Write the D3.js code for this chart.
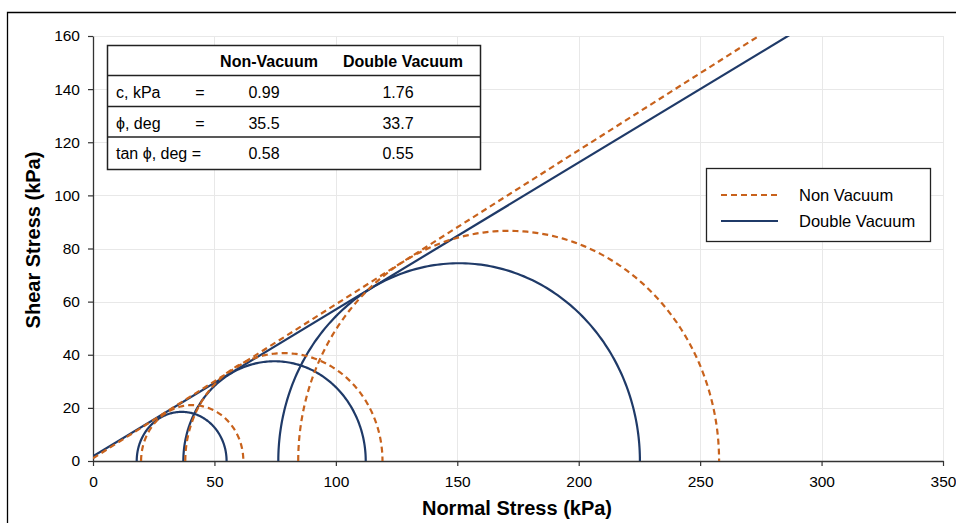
<!DOCTYPE html>
<html>
<head>
<meta charset="utf-8">
<script src="https://cdn.jsdelivr.net/npm/d3@7"></script>
<style>
  body { margin: 0; background: #fff; }
  text { font-family: "Liberation Sans", Arial, sans-serif; fill: #000; }
</style>
</head>
<body>
<script>
// Mohr circles: [sigma3, sigma1] in kPa
var nonVacCircles = [[19.8, 61.9], [38.0, 119.2], [84.5, 257.8]]
var dblVacCircles = [[18.0, 55.0], [37.2, 112.3], [76.3, 225.2]]
// failure envelopes (c, slope)
var nonVacEnv = [0.99, 0.58]
var dblVacEnv = [1.76, 0.553]

var xTicks = [0, 50, 100, 150, 200, 250, 300, 350]
var yTicks = [0, 20, 40, 60, 80, 100, 120, 140, 160]

var tableHeader = ["", "", "Non-Vacuum", "Double Vacuum"]
var tableRows = [
    ["c, kPa", "=", "0.99", "1.76"],
    ["\u03d5, deg", "=", "35.5", "33.7"],
    ["tan \u03d5, deg =", "", "0.58", "0.55"]
]
var seriesNames = ["Non Vacuum", "Double Vacuum"]

var width = 956, height = 523
var margin = {top: 36, left: 93, right: 13, bottom: 62}
var orange = "#c8621c", navy = "#1f3a68"

var svg = d3.select("body").append("svg")
    .attr("width", width).attr("height", height)

// outer frame (cropped on right and bottom)
svg.append("path")
    .attr("d", "M7.5," + height + "V12.5H" + width)
    .attr("fill", "none").attr("stroke", "#000").attr("stroke-width", 1.3)

var x = d3.scaleLinear().domain([0, 350]).range([margin.left, width - margin.right])
var y = d3.scaleLinear().domain([0, 160]).range([height - margin.bottom, margin.top])

// grid
var grid = svg.append("g").attr("stroke", "#e8e8e8").attr("stroke-width", 1)
grid.selectAll(".vg").data(xTicks.slice(1)).enter().append("line")
    .attr("x1", function(d){ return Math.round(x(d)) + 0.5 })
    .attr("x2", function(d){ return Math.round(x(d)) + 0.5 })
    .attr("y1", y(0)).attr("y2", y(160))
grid.selectAll(".hg").data(yTicks.slice(1)).enter().append("line")
    .attr("y1", function(d){ return Math.round(y(d)) + 0.5 })
    .attr("y2", function(d){ return Math.round(y(d)) + 0.5 })
    .attr("x1", x(0)).attr("x2", x(350))

// axes
var xAxis = svg.append("g")
    .attr("transform", "translate(0," + y(0) + ")")
    .call(d3.axisBottom(x).tickValues(xTicks).tickSize(5).tickSizeOuter(0))
var yAxis = svg.append("g")
    .attr("transform", "translate(" + x(0) + ",0)")
    .call(d3.axisLeft(y).tickValues(yTicks).tickSize(5).tickSizeOuter(0))
;[xAxis, yAxis].forEach(function(a){
    a.select(".domain").attr("stroke", "#333").attr("stroke-width", 1.3)
    a.selectAll(".tick line").attr("stroke", "#333").attr("stroke-width", 1.2)
    a.selectAll(".tick text").attr("font-size", 15.5)
        .attr("font-family", "Liberation Sans, Arial, sans-serif").attr("fill", "#000")
})
xAxis.selectAll(".tick text").attr("y", 26).attr("dy", 0)
yAxis.selectAll(".tick text").attr("x", -13)

svg.append("text").attr("x", 517).attr("y", 515)
    .attr("text-anchor", "middle").attr("font-size", 20).attr("font-weight", "bold")
    .text("Normal Stress (kPa)")
svg.append("text").attr("transform", "translate(40,240) rotate(-90)")
    .attr("text-anchor", "middle").attr("font-size", 20).attr("font-weight", "bold")
    .text("Shear Stress (kPa)")

// plot clip
svg.append("clipPath").attr("id", "clip").append("rect")
    .attr("x", x(0)).attr("y", y(160)).attr("width", x(350) - x(0)).attr("height", y(0) - y(160))
var plot = svg.append("g").attr("clip-path", "url(#clip)")

var line = d3.line().x(function(d){ return x(d[0]) }).y(function(d){ return y(d[1]) })

function semicircle(c) {
    var ctr = (c[0] + c[1]) / 2, r = (c[1] - c[0]) / 2
    return d3.range(0, 181).map(function(a){
        var t = Math.PI * (180 - a) / 180
        return [ctr + r * Math.cos(t), r * Math.sin(t)]
    })
}

function drawSeries(circles, env, color, dash) {
    plot.selectAll(null).data(circles).enter().append("path")
        .attr("d", function(d){ return line(semicircle(d)) })
        .attr("fill", "none").attr("stroke", color).attr("stroke-width", 2.2)
        .attr("stroke-dasharray", dash)
    plot.append("path")
        .attr("d", line([[0, env[0]], [350, env[0] + env[1] * 350]]))
        .attr("fill", "none").attr("stroke", color).attr("stroke-width", 2.2)
        .attr("stroke-dasharray", dash)
}
drawSeries(dblVacCircles, dblVacEnv, navy, null)
drawSeries(nonVacCircles, nonVacEnv, orange, "6,4")

// parameter table
var tbl = svg.append("g")
tbl.append("rect").attr("x", 107.5).attr("y", 45.5).attr("width", 373).attr("height", 124)
    .attr("fill", "#fff").attr("stroke", "#222").attr("stroke-width", 1.5)
var rowLines = [75.5, 106.5, 137]
tbl.selectAll(".rl").data(rowLines).enter().append("line")
    .attr("x1", 107.5).attr("x2", 480.5)
    .attr("y1", function(d){ return d }).attr("y2", function(d){ return d })
    .attr("stroke", "#222").attr("stroke-width", 1.3)
var colX = [116, 200, 264, 398], colAnchor = ["start", "middle", "middle", "middle"]
tbl.selectAll(".hd").data(tableHeader).enter().append("text")
    .attr("x", function(d, i){ return i == 2 ? 269 : i == 3 ? 403 : colX[i] })
    .attr("y", 67).attr("text-anchor", "middle")
    .attr("font-size", 16).attr("font-weight", "bold").text(function(d){ return d })
var rowY = [97.5, 128.5, 159]
tableRows.forEach(function(row, r){
    tbl.selectAll(null).data(row).enter().append("text")
        .attr("x", function(d, i){ return colX[i] })
        .attr("y", rowY[r]).attr("text-anchor", function(d, i){ return colAnchor[i] })
        .attr("font-size", 16).text(function(d){ return d })
})

// legend
var leg = svg.append("g")
leg.append("rect").attr("x", 706.5).attr("y", 168.5).attr("width", 224).attr("height", 73)
    .attr("fill", "#fff").attr("stroke", "#222").attr("stroke-width", 1.3)
var legY = [195, 221], legColor = [orange, navy], legDash = ["6,4", null]
seriesNames.forEach(function(n, i){
    leg.append("line").attr("x1", 721).attr("x2", 778).attr("y1", legY[i]).attr("y2", legY[i])
        .attr("stroke", legColor[i]).attr("stroke-width", 2).attr("stroke-dasharray", legDash[i])
    leg.append("text").attr("x", 799).attr("y", legY[i] + 5.5).attr("font-size", 16.5).text(n)
})
</script>
</body>
</html>
